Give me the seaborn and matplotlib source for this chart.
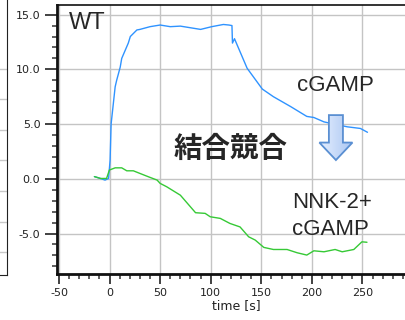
import numpy as np
import pandas as pd
import matplotlib
matplotlib.use("Agg")
import matplotlib.pyplot as plt
from matplotlib.patches import FancyArrow
from matplotlib.colors import LinearSegmentedColormap
from matplotlib.ticker import MultipleLocator, FormatStrFormatter
import seaborn as sns

# WT + cGAMP (blue)
t_wt = [-15, -9, -4.5, -1, 0.5, 1.5, 5.5, 7, 10.5, 12, 18.5, 20.5, 27, 30, 40, 50, 60,
        70, 80, 90, 101, 112.5, 118, 121, 121.5, 123.5, 136, 151, 162, 179, 195, 202,
        212, 222, 235, 248, 255]
y_wt = [0.2, 0.03, -0.12, 0.03, 1.7, 5.0, 8.4, 9.0, 10.2, 11.0, 12.4, 13.0, 13.6, 13.65,
        13.9, 14.05, 13.9, 13.95, 13.8, 13.65, 13.9, 14.1, 14.05, 14.0, 12.4, 12.8, 10.1,
        8.2, 7.5, 6.6, 5.7, 5.6, 5.2, 5.0, 4.75, 4.6, 4.25]

# NNK-2 + cGAMP (green)
t_nnk = [-15, -9, -3, -0.2, 5.5, 12, 17, 23.5, 30, 38.5, 47, 50, 56.5, 70, 85, 94.5,
         99.5, 109.5, 119, 129, 137.5, 144, 152.5, 162, 175.5, 185.5, 195, 202, 212,
         223, 230, 241.5, 249.5, 254.5]
y_nnk = [0.2, 0.03, 0.03, 0.8, 1.0, 1.0, 0.73, 0.73, 0.49, 0.18, -0.12, -0.42, -0.73,
         -1.5, -3.1, -3.16, -3.47, -3.62, -4.08, -4.4, -5.3, -5.6, -6.27, -6.46, -6.46,
         -6.76, -6.97, -6.58, -6.67, -6.46, -6.67, -6.46, -5.76, -5.8]

x_ticks = [-50, 0, 50, 100, 150, 200, 250]
y_ticks = [-5, 0, 5, 10, 15]

df = pd.DataFrame({
    "time": t_wt + t_nnk,
    "value": y_wt + y_nnk,
    "cond": ["WT"] * len(t_wt) + ["NNK"] * len(t_nnk),
})

sns.set_style("ticks")
plt.rcParams["font.family"] = ["DejaVu Sans"]
plt.rcParams["axes.unicode_minus"] = False

fig = plt.figure(figsize=(4.06, 3.2), dpi=100)

# fragment of the neighbouring panel on the left edge
ax0 = fig.add_axes([-0.2, 45 / 320, 0.2 + 7 / 406, 1.05])
ax0.set_xlim(0, 1)
ax0.set_ylim(0, 11)
ax0.set_yticks([0.75 + i for i in range(7)])
ax0.set_yticklabels([])
ax0.set_xticks([])
ax0.grid(True, axis="y", color="#c8c8c8", lw=1)
ax0.tick_params(left=False)
for s in ["left", "top"]:
    ax0.spines[s].set_visible(False)
ax0.spines["right"].set_color("#222222")
ax0.spines["bottom"].set_color("#222222")

ax = fig.add_axes([57 / 406, 46 / 320, 358 / 406, 269 / 320])
sns.lineplot(data=df, x="time", y="value", hue="cond", estimator=None, sort=False,
             palette={"WT": "#2f93ff", "NNK": "#36c936"}, linewidth=1,
             legend=False, ax=ax)

ax.set_xlim(-52, 302)
ax.set_ylim(-8.7, 15.88)
ax.set_xticks(x_ticks)
ax.set_yticks(y_ticks)
ax.xaxis.set_minor_locator(MultipleLocator(10))
ax.yaxis.set_minor_locator(MultipleLocator(1))
ax.yaxis.set_major_formatter(FormatStrFormatter("%.1f"))
ax.grid(True, which="major", color="#c4c4c4", lw=1)
ax.set_axisbelow(True)
ax.xaxis.set_tick_params(which="major", length=7, width=1.3)
ax.xaxis.set_tick_params(which="minor", length=3.5, width=1.1)
ax.yaxis.set_tick_params(which="major", length=9, width=1.3, left=True)
ax.yaxis.set_tick_params(which="minor", length=3.5, width=1.1, left=True)
ax.tick_params(which="both", direction="out", color="#333333", right=False, top=False)
ax.tick_params(which="major", labelsize=8, labelcolor="#222222", pad=3)
ax.set_xlabel("time [s]", fontsize=9, labelpad=1, color="#222222")
ax.set_ylabel("")
for s, w in [("left", 2), ("bottom", 2), ("top", 1.2), ("right", 1.2)]:
    ax.spines[s].set_visible(True)
    ax.spines[s].set_linewidth(w)
    ax.spines[s].set_color("#111111")

ax.text(-40, 13.7, "WT", fontsize=17, family="Liberation Sans", va="baseline")
ax.text(185.3, 8.0, "cGAMP", fontsize=16, family="Liberation Sans", va="baseline")
ax.text(180.4, -2.7, "NNK-2+", fontsize=16, family="Liberation Sans", va="baseline")
ax.text(180.4, -5.15, "cGAMP", fontsize=16, family="Liberation Sans", va="baseline")
ax.text(119.3, 2.76, "結合競合", fontsize=20.5, weight="bold",
        family=["Noto Sans CJK JP", "DejaVu Sans"], ha="center", va="center")

# down arrow with a soft blue gradient fill
arrow = FancyArrow(223.8, 5.82, 0, -4.11, width=13.9, head_width=32.7,
                   head_length=1.6, length_includes_head=True,
                   facecolor="none", edgecolor="#5a8fd2", lw=1.3, zorder=6)
ax.add_patch(arrow)
grad = LinearSegmentedColormap.from_list("arr", ["#e6efff", "#a8c5f2"])
img = ax.imshow(np.linspace(0, 1, 64).reshape(1, -1), cmap=grad, aspect="auto",
                extent=(207, 241, 1.7, 5.9), zorder=5, interpolation="bilinear")
img.set_clip_path(arrow)
ax.set_xlim(-52, 302)
ax.set_ylim(-8.7, 15.88)

fig.savefig("out.png", dpi=100)
